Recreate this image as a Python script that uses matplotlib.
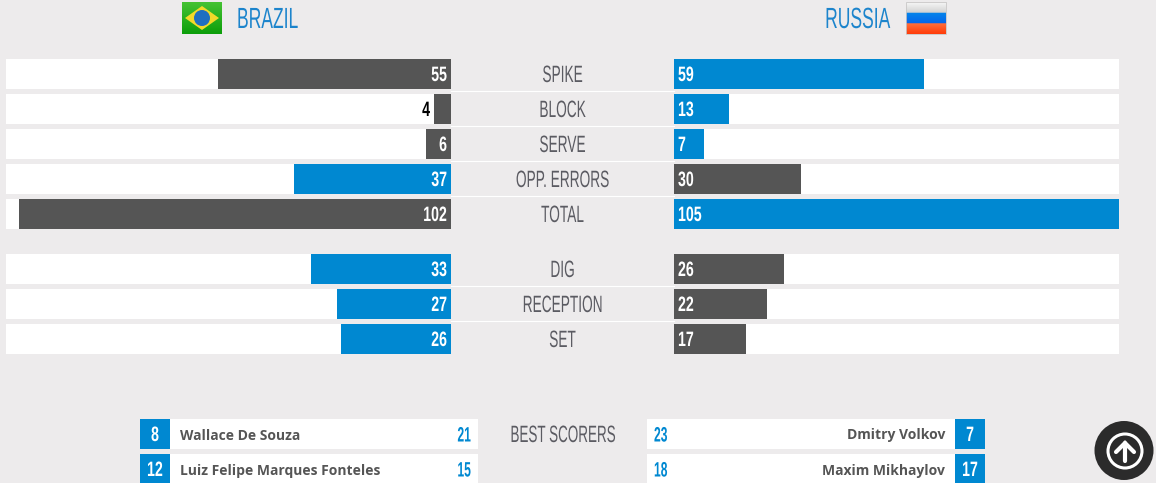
import numpy as np
import matplotlib
matplotlib.use("Agg")
import matplotlib.pyplot as plt
import matplotlib.patheffects as pe
from matplotlib.patches import Circle, Polygon, Rectangle
from matplotlib.transforms import Affine2D

W, H = 1156, 483
BG = "#edebec"
BLUE = "#0088d1"
GRAY = "#555555"
TEXT = "#5b5b62"
BASE_FONT = ["Liberation Sans", "DejaVu Sans"]

team_left = "BRAZIL"
team_right = "RUSSIA"
categories = ["SPIKE", "BLOCK", "SERVE", "OPP. ERRORS", "TOTAL", "DIG", "RECEPTION", "SET"]
brazil = [55, 4, 6, 37, 102, 33, 27, 26]
russia = [59, 13, 7, 30, 105, 26, 22, 17]
row_y = [74, 109, 144, 179, 214, 269, 304, 339]

scorer_title = "BEST SCORERS"
left_numbers = [8, 12]
left_names = ["Wallace De Souza", "Luiz Felipe Marques Fonteles"]
left_points = [21, 15]
right_numbers = [7, 17]
right_names = ["Dmitry Volkov", "Maxim Mikhaylov"]
right_points = [23, 18]
scorer_y = [434, 469]

max_val = max(max(brazil), max(russia))


class Squeeze(pe.AbstractPathEffect):
    # no condensed font installed, so narrow the glyphs around the anchor x (display px)
    def __init__(self, sx, anchor):
        super().__init__()
        self.sx = sx
        self.anchor = anchor

    def draw_path(self, renderer, gc, tpath, affine, rgbFace=None):
        squeeze = Affine2D().translate(-self.anchor, 0).scale(self.sx, 1).translate(self.anchor, 0)
        renderer.draw_path(gc, tpath, affine + squeeze, rgbFace)


def narrow_text(ax, x, y, s, sx, size, color, ha="left", bold=False):
    # x is pixel position in the overlay axes
    t = ax.text(x, y, s, ha=ha, va="baseline", family=BASE_FONT, fontsize=size, color=color,
                weight="bold" if bold else "normal")
    t.set_path_effects([Squeeze(sx, x)])
    return t


def side_axes(fig, x0, x1, invert):
    ax = fig.add_axes([x0 / W, 0, (x1 - x0) / W, 1])
    ax.set_xlim(max_val, 0) if invert else ax.set_xlim(0, max_val)
    ax.set_ylim(H, 0)
    ax.axis("off")
    return ax


def draw_side(ax, values, others, sign):
    ax.barh(row_y, [max_val] * len(row_y), height=30, color="white")
    colors = [BLUE if v > o else GRAY for v, o in zip(values, others)]
    ax.barh(row_y, values, height=30, color=colors)
    ha = "left" if sign > 0 else "right"
    for y, v in zip(row_y, values):
        # tiny bars get the number outside, in black
        outside = v < 5
        x = v if outside else 0
        px = ax.transData.transform((x, 0))[0] + sign * 4
        t = ax.annotate(str(v), (x, y + 7), xytext=(sign * 4, 0), textcoords="offset pixels",
                        ha=ha, va="baseline", family=BASE_FONT, weight="bold", fontsize=15,
                        color="black" if outside else "white")
        t.set_path_effects([Squeeze(0.68, px)])


def brazil_flag(ax, x, y, w, h):
    img = np.zeros((32, 1, 3))
    grad = np.linspace(0.0, 1.0, 32)
    img[:, 0, 0] = 0.27 - 0.22 * grad
    img[:, 0, 1] = 0.76 - 0.14 * grad
    img[:, 0, 2] = 0.20 - 0.16 * grad
    ax.imshow(img, extent=(x, x + w, y + h, y), aspect="auto", zorder=2)
    ax.add_patch(Polygon([(x + 3, y + h / 2), (x + w / 2, y + 4), (x + w - 3, y + h / 2), (x + w / 2, y + h - 4)],
                         color="#f2d92a", lw=0, zorder=3))
    ax.add_patch(Circle((x + w / 2, y + h / 2), 8, color="#1f6fc0", lw=0, zorder=4))


def russia_flag(ax, x, y, w, h):
    img = np.zeros((33, 1, 3))
    for i in range(33):
        t = i / 32
        if t < 1 / 3:
            img[i, 0] = (0.96 - 0.42 * t,) * 3
        elif t < 2 / 3:
            img[i, 0] = (0.02, 0.52 - 0.36 * (t - 1 / 3), 0.92)
        else:
            img[i, 0] = (1.0, 0.44 - 0.6 * (t - 2 / 3), 0.24 - 0.6 * (t - 2 / 3))
    ax.imshow(img, extent=(x, x + w, y + h, y), aspect="auto", zorder=2)
    ax.add_patch(Rectangle((x, y), w, h, facecolor="none", edgecolor="#c8c6c6", lw=0.6, zorder=3))


fig = plt.figure(figsize=(W / 100, H / 100), dpi=100, facecolor=BG)

left_ax = side_axes(fig, 6, 451, True)
right_ax = side_axes(fig, 674, 1119, False)
draw_side(left_ax, brazil, russia, -1)
draw_side(right_ax, russia, brazil, 1)

# overlay in pixel coords for everything that is not a bar
ov = fig.add_axes([0, 0, 1, 1])
ov.axis("off")
ov.patch.set_alpha(0)

brazil_flag(ov, 182, 2, 40, 32)
russia_flag(ov, 906, 2, 40, 32)
ov.set_xlim(0, W)
ov.set_ylim(H, 0)

narrow_text(ov, 237, 28, team_left, 0.6, 21, "#1c84cc")
narrow_text(ov, 890, 28, team_right, 0.6, 21, "#1c84cc", ha="right")

for y, name in zip(row_y, categories):
    narrow_text(ov, 562.5, y + 8, name, 0.58, 17, TEXT, ha="center")
# white rule under each label, except the last one of each group
for y in row_y[:4] + row_y[5:7]:
    ov.plot([451, 674], [y + 16.5, y + 16.5], color="white", lw=0.8)

# best scorers block
narrow_text(ov, 563, 442, scorer_title, 0.57, 17, TEXT, ha="center")
for i, y in enumerate(scorer_y):
    ov.add_patch(Rectangle((170, y - 15), 308, 30, color="white", lw=0))
    ov.add_patch(Rectangle((140, y - 15), 30, 30, color=BLUE, lw=0))
    narrow_text(ov, 155, y + 7, str(left_numbers[i]), 0.68, 15, "white", ha="center", bold=True)
    ov.text(180, y + 5.5, left_names[i], ha="left", va="baseline", family="Open Sans", weight="bold", fontsize=10, color=GRAY)
    narrow_text(ov, 471, y + 7.5, str(left_points[i]), 0.58, 15, BLUE, ha="right", bold=True)

    ov.add_patch(Rectangle((647, y - 15), 308, 30, color="white", lw=0))
    ov.add_patch(Rectangle((955, y - 15), 30, 30, color=BLUE, lw=0))
    narrow_text(ov, 970, y + 7, str(right_numbers[i]), 0.68, 15, "white", ha="center", bold=True)
    ov.text(945, y + 5.5, right_names[i], ha="right", va="baseline", family="Open Sans", weight="bold", fontsize=10, color=GRAY)
    narrow_text(ov, 654, y + 7.5, str(right_points[i]), 0.58, 15, BLUE, bold=True)

# back to top button
ov.add_patch(Circle((1124, 450.5), 29.5, color="#2b2b2b", lw=0))
ov.add_patch(Circle((1125, 451), 17, facecolor="none", edgecolor="white", lw=2.2))
ov.plot([1125, 1125], [461, 443], color="white", lw=3, solid_capstyle="round")
ov.plot([1116, 1125, 1134], [452, 443, 452], color="white", lw=3, solid_capstyle="round", solid_joinstyle="miter")

fig.savefig("out.png", dpi=100, facecolor=BG)
